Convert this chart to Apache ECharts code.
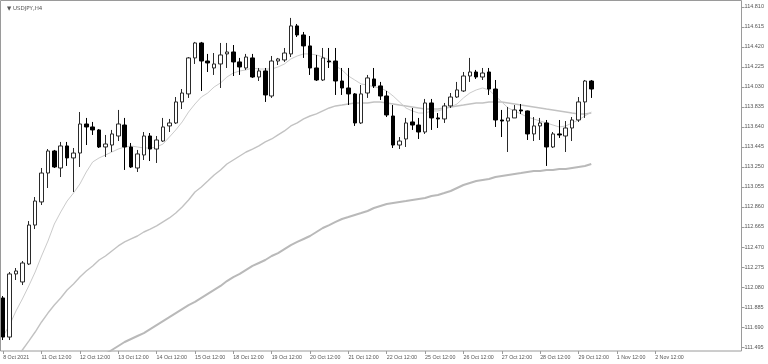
<!DOCTYPE html>
<html><head><meta charset="utf-8">
<script src="https://cdn.jsdelivr.net/npm/echarts@6/dist/echarts.min.js"></script>
<style>html,body{margin:0;padding:0;background:#fff}#c{width:768px;height:364px}</style>
</head><body><div id="c"></div>
<script>
const chartTitle = 'USDJPY,H4';
const tradingDays = ['8 Oct','11 Oct','12 Oct','13 Oct','14 Oct','15 Oct','18 Oct','19 Oct','20 Oct','21 Oct','22 Oct','25 Oct','26 Oct','27 Oct','28 Oct','29 Oct','1 Nov','2 Nov'];
const barHours = ['00:00','04:00','08:00','12:00','16:00','20:00'];
const firstLabel = '8 Oct 2021';
const yTicks = [111.495,111.690,111.885,112.080,112.275,112.470,112.665,112.860,113.055,113.250,113.445,113.640,113.835,114.030,114.225,114.420,114.615,114.810];

const opens = [111.973,111.592,112.207,112.129,112.304,112.684,112.909,113.191,113.406,113.240,
113.455,113.338,113.386,113.669,113.640,113.611,113.445,113.464,113.552,113.659,
113.445,113.240,113.367,113.552,113.425,113.503,113.650,113.679,113.884,113.962,
114.313,114.459,114.283,114.215,114.254,114.352,114.371,114.274,114.215,114.313,
114.127,114.186,113.942,114.283,114.293,114.352,114.625,114.537,114.430,114.215,
114.098,114.283,114.283,114.088,114.020,113.962,113.679,113.971,114.108,114.040,
113.942,113.747,113.464,113.523,113.689,113.659,113.591,113.874,113.728,113.718,
113.845,113.932,113.991,114.137,114.176,114.127,114.176,114.010,113.708,113.698,
113.728,113.806,113.796,113.572,113.650,113.679,113.445,113.572,113.552,113.630,
113.708,113.884,114.088];
const closes = [111.592,112.207,112.236,112.314,112.684,112.918,113.191,113.406,113.250,113.455,
113.338,113.386,113.669,113.640,113.611,113.445,113.474,113.572,113.669,113.445,
113.250,113.377,113.552,113.425,113.513,113.640,113.679,113.884,113.971,114.313,
114.459,114.283,114.264,114.254,114.342,114.371,114.274,114.225,114.322,114.127,
114.186,113.952,114.283,114.303,114.361,114.625,114.537,114.430,114.215,114.098,
114.313,114.274,114.088,114.020,113.962,113.679,113.962,114.118,114.040,113.942,
113.757,113.464,113.503,113.679,113.659,113.591,113.874,113.728,113.718,113.845,
113.932,114.001,114.137,114.176,114.127,114.166,114.010,113.708,113.698,113.728,
113.806,113.796,113.572,113.650,113.679,113.445,113.572,113.562,113.630,113.708,
113.884,114.088,114.010];
const lows = [111.563,111.563,112.148,112.099,112.294,112.645,112.879,113.045,113.240,113.152,
113.260,113.006,113.250,113.464,113.562,113.435,113.347,113.396,113.503,113.221,
113.240,113.201,113.318,113.308,113.289,113.494,113.591,113.669,113.815,113.923,
114.254,113.991,114.176,114.147,114.020,114.215,114.137,114.147,114.196,114.118,
114.088,113.884,113.923,114.244,114.274,114.322,114.517,114.313,114.147,114.088,
114.088,114.215,113.952,113.952,113.854,113.650,113.669,113.923,114.020,113.903,
113.737,113.435,113.425,113.445,113.611,113.523,113.572,113.611,113.630,113.679,
113.825,113.923,113.981,114.079,114.108,114.098,113.952,113.640,113.542,113.396,
113.728,113.767,113.513,113.503,113.513,113.260,113.435,113.533,113.396,113.503,
113.689,113.728,113.923];
const highs = [111.992,112.226,112.265,112.333,112.723,112.957,113.240,113.425,113.416,113.494,
113.494,113.435,113.786,113.728,113.689,113.620,113.562,113.611,113.806,113.728,
113.484,113.416,113.591,113.581,113.552,113.728,113.718,113.932,114.010,114.322,
114.469,114.469,114.352,114.361,114.459,114.459,114.439,114.313,114.352,114.352,
114.215,114.215,114.332,114.313,114.410,114.703,114.644,114.566,114.527,114.342,
114.410,114.410,114.410,114.215,114.215,113.971,114.049,114.147,114.215,114.079,
113.991,113.854,113.542,113.728,113.825,113.728,113.913,113.913,113.776,113.874,
113.971,114.079,114.176,114.313,114.196,114.215,114.215,114.098,113.806,113.835,
113.854,113.864,113.800,113.737,113.728,113.708,113.591,113.708,113.698,113.737,
113.932,114.098,114.098];

const maFast = [111.602,111.709,111.846,111.963,112.090,112.226,112.382,112.528,112.694,112.811,
112.918,112.996,113.084,113.201,113.299,113.338,113.367,113.396,113.425,113.445,
113.455,113.445,113.435,113.435,113.445,113.474,113.542,113.611,113.689,113.786,
113.864,113.932,113.971,114.030,114.069,114.127,114.166,114.186,114.196,114.215,
114.205,114.205,114.205,114.225,114.254,114.303,114.332,114.352,114.352,114.342,
114.322,114.293,114.235,114.196,114.137,114.098,114.059,114.049,114.030,114.020,
113.991,113.942,113.884,113.825,113.796,113.776,113.776,113.796,113.796,113.815,
113.835,113.864,113.923,113.971,114.001,114.020,114.001,113.942,113.884,113.825,
113.796,113.767,113.737,113.718,113.698,113.679,113.659,113.640,113.650,113.679,
113.708,113.747,113.786];
const maMid = [null,null,111.368,111.466,111.553,111.641,111.739,111.826,111.904,111.973,
112.051,112.109,112.177,112.236,112.285,112.343,112.382,112.431,112.480,112.519,
112.548,112.577,112.616,112.645,112.675,112.714,112.753,112.801,112.860,112.928,
113.006,113.055,113.113,113.172,113.221,113.279,113.318,113.357,113.396,113.425,
113.455,113.494,113.523,113.562,113.601,113.650,113.679,113.718,113.747,113.767,
113.796,113.825,113.845,113.854,113.864,113.874,113.874,113.874,113.884,113.884,
113.874,113.864,113.854,113.845,113.835,113.825,113.815,113.815,113.815,113.825,
113.835,113.845,113.854,113.864,113.874,113.874,113.884,113.884,113.884,113.874,
113.864,113.854,113.845,113.835,113.825,113.815,113.806,113.796,113.786,113.776,
113.767,113.767,113.776];
const maSlow = [null,null,null,null,null,null,null,null,null,null,
null,null,null,null,null,null,111.427,111.466,111.505,111.544,
111.573,111.602,111.631,111.670,111.709,111.748,111.787,111.826,111.865,111.904,
111.934,111.973,112.012,112.051,112.090,112.138,112.177,112.207,112.246,112.285,
112.314,112.343,112.382,112.411,112.450,112.489,112.519,112.548,112.577,112.616,
112.655,112.684,112.714,112.743,112.762,112.782,112.801,112.821,112.850,112.870,
112.889,112.899,112.909,112.918,112.928,112.938,112.948,112.967,112.977,112.996,
113.016,113.045,113.074,113.094,113.113,113.123,113.133,113.152,113.162,113.172,
113.182,113.191,113.201,113.211,113.211,113.221,113.221,113.230,113.230,113.240,
113.250,113.260,113.279];

// bar times (first day starts at 12:00), then empty slots for the unlabelled future space
const categories = [];
tradingDays.forEach((d, k) => barHours.forEach(h => {
  if (k === 0 && h < '12:00') return;
  categories.push(d + ' ' + h);
}));
const slotCount = 116;
while (categories.length < slotCount) categories.push('');
const candleData = opens.map((o, i) => [o, closes[i], lows[i], highs[i]]);

const isLabelled = (idx, val) => idx === 0 || /12:00$/.test(val);
const font = 'Liberation Sans, Arial, sans-serif';

const chart = echarts.init(document.getElementById('c'), null, {renderer: 'canvas'});
chart.setOption({
  animation: false,
  backgroundColor: '#ffffff',
  title: {
    text: '\u25BC ' + chartTitle, left: 2, top: 1,
    textStyle: {fontSize: 5.5, fontWeight: 'normal', color: '#555', fontFamily: 'DejaVu Sans, sans-serif'}
  },
  grid: [
    {left: -1.9, right: 26.5, top: 1, bottom: 13, show: false},
    {left: 0.5, right: 26.5, top: 0.5, bottom: 13, show: true, borderColor: '#9a9a9a', borderWidth: 1, backgroundColor: 'transparent'}
  ],
  xAxis: [
    {
      type: 'category', gridIndex: 0, data: categories, boundaryGap: true,
      axisLine: {show: false},
      axisTick: {show: true, alignWithLabel: true, interval: isLabelled, length: 3, lineStyle: {color: '#9a9a9a'}},
      axisLabel: {
        interval: isLabelled, align: 'left', margin: 4, fontSize: 5.3, color: '#555', fontFamily: font,
        formatter: (v, idx) => idx === 0 ? firstLabel : v
      },
      splitLine: {show: false}
    },
    {type: 'value', gridIndex: 1, min: 0, max: 1, show: false}
  ],
  yAxis: [
    {
      type: 'value', gridIndex: 0, position: 'right', min: 111.456, max: 114.868, scale: true,
      axisLine: {show: false},
      axisTick: {show: true, customValues: yTicks, length: 3, lineStyle: {color: '#9a9a9a'}},
      axisLabel: {customValues: yTicks, margin: 3, fontSize: 5.5, color: '#555', fontFamily: font,
        formatter: v => v.toFixed(3)},
      splitLine: {show: false}
    },
    {type: 'value', gridIndex: 1, min: 0, max: 1, show: false}
  ],
  series: [
    {type: 'line', name: 'MA slow', data: maSlow, xAxisIndex: 0, yAxisIndex: 0, symbol: 'none', z: 1,
      lineStyle: {color: '#b9b9b9', width: 2}},
    {type: 'line', name: 'MA mid', data: maMid, xAxisIndex: 0, yAxisIndex: 0, symbol: 'none', z: 1,
      lineStyle: {color: '#c2c2c2', width: 1.4}},
    {type: 'line', name: 'MA fast', data: maFast, xAxisIndex: 0, yAxisIndex: 0, symbol: 'none', z: 1,
      lineStyle: {color: '#cbcbcb', width: 1}},
    {type: 'candlestick', name: chartTitle, data: candleData, xAxisIndex: 0, yAxisIndex: 0, barWidth: 4, z: 3,
      itemStyle: {color: '#ffffff', color0: '#000000', borderColor: '#2a2a2a', borderColor0: '#000000', borderWidth: 1}}
  ]
});
</script></body></html>
